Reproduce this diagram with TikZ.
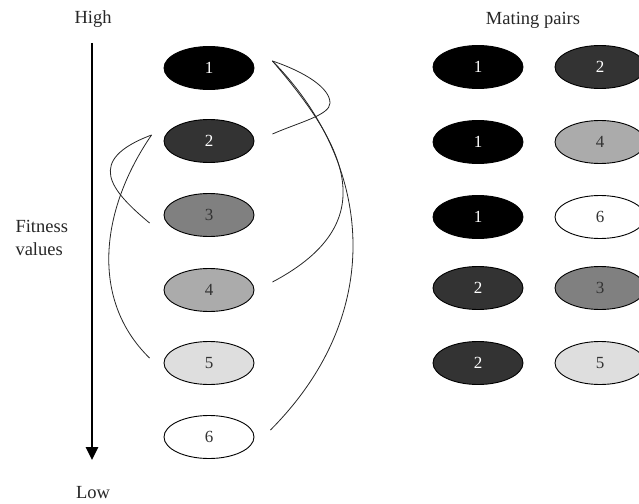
\documentclass[tikz,border=0pt]{standalone}
\usepackage{fontspec}
\setmainfont{Liberation Serif}
\usetikzlibrary{shapes.geometric,arrows.meta,calc}
\begin{document}
\begin{tikzpicture}[x=1pt,y=-1pt,
  chrom/.style={ellipse,draw=black,line width=0.9pt,minimum width=90pt,minimum height=43pt,inner sep=0pt,font=\fontsize{17}{20}\selectfont},
  c1/.style={chrom,fill=black,text=white},
  c2/.style={chrom,fill=black!80,text=white},
  c3/.style={chrom,fill=black!50,text=black!80},
  c4/.style={chrom,fill=black!33,text=black!80},
  c5/.style={chrom,fill=black!13,text=black!80},
  c6/.style={chrom,fill=white,text=black!80},
  lbl/.style={font=\fontsize{18.5}{23}\selectfont,text=black!85},
  link/.style={line width=0.8pt,black!85}]
\useasboundingbox (0,0) rectangle (639,503);
\clip (0,0) rectangle (639,503);
% labels
\node[lbl] (high) at (93,19) {High};
\node[lbl] (low) at (93,493) {Low};
\node[lbl,align=left,anchor=west] (fit) at (12,238) {Fitness\\values};
\node[lbl] (mating) at (533,20) {Mating pairs};
% fitness axis
\coordinate (axtop) at (92,43);
\coordinate (axbot) at (92,460);
\draw[line width=2.6pt,-{Triangle[width=12pt,length=13pt]}] (axtop) -- (axbot);
% population
\node[c1] (L1) at (209,68) {1};
\node[c2] (L2) at (209,141) {2};
\node[c3] (L3) at (209,215) {3};
\node[c4] (L4) at (209,290) {4};
\node[c5] (L5) at (209,363) {5};
\node[c6] (L6) at (209,437) {6};
% mating pairs
\node[c1] (A1) at (478,67) {1};
\node[c2] (B1) at (600,67) {2};
\node[c1] (A2) at (478,142) {1};
\node[c4] (B2) at (600,142) {4};
\node[c1] (A3) at (478,217) {1};
\node[c6] (B3) at (600,217) {6};
\node[c2] (A4) at (478,288) {2};
\node[c3] (B4) at (600,288) {3};
\node[c2] (A5) at (478,363) {2};
\node[c5] (B5) at (600,363) {5};
% pairing curves
\draw[link] ($(L1.east)+(18,-7)$) .. controls (305,72) and (330,88) .. (330,103)
  .. controls (330,115) and (300,122) .. ($(L2.east)+(18,-7)$);
\draw[link] ($(L1.east)+(18,-7)$) .. controls (340,140) and (390,220) .. ($(L4.east)+(18,-8)$);
\draw[link] ($(L1.east)+(18,-7)$) .. controls (370,160) and (390,310) .. ($(L6.east)+(16,-7)$);
\draw[link] ($(L2.west)+(-12,-6)$) .. controls (85,160) and (110,190) .. ($(L3.west)+(-14,8)$);
\draw[link] ($(L2.west)+(-12,-6)$) .. controls (100,210) and (90,300) .. ($(L5.west)+(-14,-5)$);
\end{tikzpicture}
\end{document}
